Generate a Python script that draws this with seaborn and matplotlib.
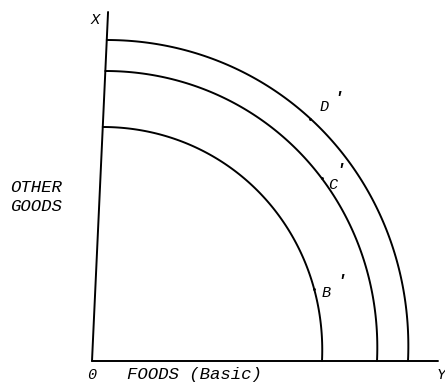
import numpy as np
import pandas as pd
import matplotlib.pyplot as plt
import seaborn as sns

# three production possibility frontiers (arbitrary units)
frontiers = ["B", "C", "D"]
foods_max = [230, 285, 316]    # intercept on FOODS axis
other_max = [234, 290, 321]    # intercept on OTHER GOODS axis
point_angle = [18, 39, 49]     # where B', C', D' sit on each curve (degrees)
tilt = 0.046                   # the vertical axis leans a little to the right

rows = []
for name, a, b in zip(frontiers, foods_max, other_max):
    for t in np.linspace(0, 90, 120):
        r = np.radians(t)
        y = b * np.sin(r)
        rows.append({"frontier": name, "foods": a * np.cos(r) + tilt * y, "other": y})
df = pd.DataFrame(rows)

sns.set_style("white")
fig = plt.figure(figsize=(4.45, 3.82), dpi=100)
ax = fig.add_axes([0, 0, 1, 1])

sns.lineplot(data=df, x="foods", y="other", units="frontier", estimator=None,
             sort=False, color="black", lw=1.4, ax=ax, legend=False)

# axes
ax.plot([0, 346], [0, 0], color="black", lw=1.4)
ax.plot([0, tilt * 349], [0, 349], color="black", lw=1.4)

# points B', C', D' with their labels (label / prime offsets in axis units)
label_off = {"B": (12, -4), "C": (11, -7), "D": (14, 12)}
prime_off = {"B": (27, 7), "C": (18, 8), "D": (28, 20)}
font = dict(family="Liberation Mono", style="italic", color="black")
for name, a, b, ang in zip(frontiers, foods_max, other_max, point_angle):
    r = np.radians(ang)
    y = b * np.sin(r)
    x = a * np.cos(r) + tilt * y
    ax.plot(x, y, marker=".", ms=2, color="black")
    lx, ly = label_off[name]
    px, py = prime_off[name]
    ax.text(x + lx, y + ly, name, fontsize=11, ha="center", va="center", **font)
    ax.text(x + px, y + py, "'", fontsize=12, ha="center", va="center",
            fontweight="bold", **font)

ax.text(3, 341, "X", fontsize=11, ha="center", va="center", **font)
ax.text(345, -14, "Y", fontsize=11, ha="left", va="center", **font)
ax.text(0, -14, "0", fontsize=11, ha="center", va="center", **font)
ax.text(35, -14, "FOODS (Basic)", fontsize=12.5, ha="left", va="center", **font)
ax.text(-82, 164, "OTHER\nGOODS", fontsize=12.5, ha="left", va="center",
        linespacing=1.3, **font)

ax.set_xlim(-92, 353)
ax.set_ylim(-21, 361)
ax.axis("off")

plt.savefig("out.png", dpi=100)
